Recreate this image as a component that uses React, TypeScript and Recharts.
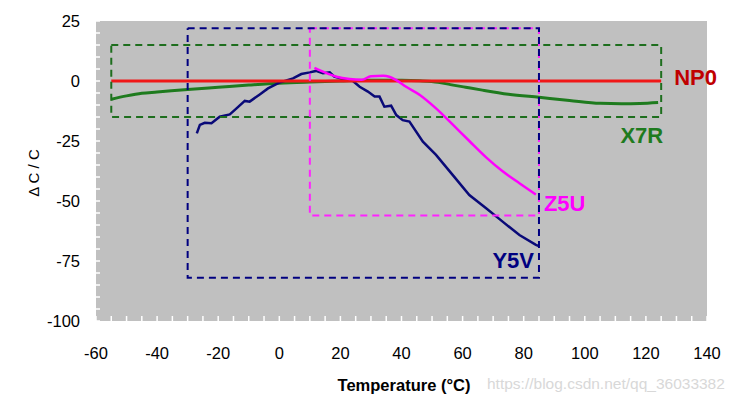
import { LineChart, Line, XAxis, YAxis, CartesianGrid, Customized } from 'recharts'

const X_MAJOR = [-60, -40, -20, 0, 20, 40, 60, 80, 100, 120, 140]
const X_MINOR = [
  -60, -55, -50, -45, -40, -35, -30, -25, -20, -15, -10, -5, 0, 5, 10, 15, 20, 25, 30, 35, 40,
  45, 50, 55, 60, 65, 70, 75, 80, 85, 90, 95, 100, 105, 110, 115, 120, 125, 130, 135, 140,
]
const Y_MAJOR = [-100, -75, -50, -25, 0, 25]
const Y_MINOR = [
  -100, -95, -90, -85, -80, -75, -70, -65, -60, -55, -50, -45, -40, -35, -30, -25, -20, -15, -10,
  -5, 0, 5, 10, 15, 20, 25,
]
const Y_GRID = [-75, -50, -25, 0]

// NP0: flat
const NP0_T = [-55, 125]
const NP0_V = [0, 0]

// X7R curve + box
const X7R_T = [-55, -50, -45, -40, -30, -20, -10, 0, 10, 20, 30, 40, 46, 52, 56, 61, 66, 75, 85, 95, 105, 112, 118, 124]
const X7R_V = [-7.6, -6.2, -5.1, -4.6, -3.5, -2.6, -1.7, -0.9, -0.4, 0, 0.3, 0.3, 0.1, -0.5, -1.5, -2.6, -3.7, -5.5, -6.8, -8.1, -9.3, -9.5, -9.4, -9.0]
const X7R_BOX_T = [-55, 125]
const X7R_BOX_V = [15, -15]

// Y5V curve + box
const Y5V_T = [
  -27, -26, -24.4, -22.2, -19.5, -16.2, -14, -11.3, -9.7, -6.4, -3.7, 0, 4.5, 7.2, 10, 12, 14.3,
  16.5, 18, 21, 24, 26.3, 29, 31.2, 32.8, 34.4, 36.6, 38.3, 40.4, 42.6, 47, 51.3, 56.8, 62.2, 67.7,
  73.1, 78.6, 84, 85,
]
const Y5V_V = [
  -21.8, -18.3, -17.4, -17.6, -14.9, -13.9, -11.4, -8.3, -8.6, -5.6, -3.1, -0.7, 1.1, 2.9, 3.6, 4.2,
  3.2, 3.6, 1.8, 0.8, 0.1, -2.4, -4.4, -6.5, -6.5, -10.7, -10.3, -14.2, -16.3, -16.9, -25.3, -30.8,
  -39.2, -47.5, -53, -58.6, -64.2, -68.3, -68.8,
]
const Y5V_BOX_T = [-30, 85]
const Y5V_BOX_V = [22, -82]

// Z5U curve + box
const Z5U_T = [11.5, 14.3, 18.7, 23, 27, 30, 34, 36, 38.3, 41.5, 46, 51.3, 56.8, 62.2, 67.7, 73.1, 78.6, 84]
const Z5U_V = [5.5, 3.9, 1.8, 0.8, 0.5, 2, 2.2, 1.8, 0.4, -2.4, -5.8, -11.4, -18.2, -25, -31.8, -37.6, -42.6, -47.3]
const Z5U_BOX_T = [10, 85]
const Z5U_BOX_V = [22, -56]

const FONT = '"Liberation Sans", Arial, sans-serif'

const pts = (ts: number[], vs: number[]) => ts.map((t, i) => ({ t, v: vs[i] }))
// closed rectangle: TL, TR, BR, BL, TL
const box = (ts: number[], vs: number[]) => [
  { t: ts[0], v: vs[0] },
  { t: ts[1], v: vs[0] },
  { t: ts[1], v: vs[1] },
  { t: ts[0], v: vs[1] },
  { t: ts[0], v: vs[0] },
]

const np0 = pts(NP0_T, NP0_V)
const x7r = pts(X7R_T, X7R_V)
const y5v = pts(Y5V_T, Y5V_V)
const z5u = pts(Z5U_T, Z5U_V)
const x7rBox = box(X7R_BOX_T, X7R_BOX_V)
const y5vBox = box(Y5V_BOX_T, Y5V_BOX_V)
const z5uBox = box(Z5U_BOX_T, Z5U_BOX_V)

const seriesLabel =
  (text: string, color: string, idx: number, dx: number, dy: number, anchor: 'start' | 'end') =>
  (p: any) => {
    if (p.index !== idx) return <g key={p.index} />
    return (
      <text key={p.index} x={p.x + dx} y={p.y + dy} textAnchor={anchor} fill={color} fontFamily={FONT} fontWeight="bold" fontSize={22}>
        {text}
      </text>
    )
  }

// tickSize/tickMargin are 0, so p.x / p.y sit on the plot edge
const XTick = (p: any) => {
  const v = p.payload?.value
  return (
    <g>
      <line x1={p.x} x2={p.x} y1={p.y} y2={p.y - 5} stroke="#ffffff" strokeWidth={1.5} />
      {X_MAJOR.includes(v) && (
        <text x={p.x} y={p.y + 38} textAnchor="middle" fill="#000" fontFamily={FONT} fontSize={16.5}>
          {v}
        </text>
      )}
    </g>
  )
}

const YTick = (p: any) => {
  const v = p.payload?.value
  return (
    <g>
      <line x1={p.x} x2={p.x + 4} y1={p.y} y2={p.y} stroke="#ffffff" strokeWidth={1.5} />
      {Y_MAJOR.includes(v) && (
        <text x={p.x - 16} y={p.y + 6} textAnchor="end" fill="#000" fontFamily={FONT} fontSize={16.5}>
          {v}
        </text>
      )}
    </g>
  )
}

const Titles = () => (
  <g>
    <text x={396} y={383} textAnchor="middle" fill="#000" fontFamily={FONT} fontWeight="bold" fontSize={16.5}>
      Temperature (°C)
    </text>
    <text x={25} y={165} transform="rotate(-90 25 165)" textAnchor="middle" dominantBaseline="central" fill="#000" fontFamily={FONT} fontSize={15}>
      Δ C / C
    </text>
    <text x={479} y={381} fill="#d8d8d8" fontFamily={FONT} fontSize={15.5}>
      https://blog.csdn.net/qq_36033382
    </text>
  </g>
)

export default function App() {
  return (
    <div style={{ width: 731, height: 398 }}>
      <LineChart width={731} height={398} margin={{ top: 13, right: 32, left: 0, bottom: 0 }}>
        <CartesianGrid
          vertical={false}
          fill="#c0c0c0"
          fillOpacity={1}
          stroke="#ffffff"
          strokeWidth={1.2}
          horizontalCoordinatesGenerator={({ yAxis }: any) =>
            yAxis && typeof yAxis.scale === 'function' ? Y_GRID.map((v) => yAxis.scale(v)) : []
          }
        />
        <XAxis type="number" dataKey="t" domain={[-60, 140]} ticks={X_MINOR} interval={0} allowDataOverflow axisLine={false} tickSize={0} tickMargin={0} tickLine={false} tick={<XTick />} height={85} />
        <YAxis type="number" domain={[-100, 25]} ticks={Y_MINOR} interval={0} allowDataOverflow axisLine={false} tickSize={0} tickMargin={0} tickLine={false} tick={<YTick />} width={88} />
        <Line data={x7r} dataKey="v" type="monotone" stroke="#1e7b1e" strokeWidth={3} dot={false} activeDot={false} isAnimationActive={false} />
        <Line data={y5v} dataKey="v" type="linear" stroke="#0a0a78" strokeWidth={2.5} dot={false} activeDot={false} isAnimationActive={false} />
        <Line data={np0} dataKey="v" type="linear" stroke="#f01818" strokeWidth={3} dot={false} activeDot={false} isAnimationActive={false} label={seriesLabel('NP0', '#c00000', 1, 13, 4, 'start')} />
        <Line data={z5u} dataKey="v" type="monotone" stroke="#ff00ff" strokeWidth={2.5} dot={false} activeDot={false} isAnimationActive={false} label={seriesLabel('Z5U', '#ff00ff', Z5U_T.length - 1, 8, 16, 'start')} />
        <Line data={x7rBox} dataKey="v" type="linear" stroke="#1e6e1e" strokeWidth={2} strokeDasharray="7 5" dot={false} activeDot={false} isAnimationActive={false} label={seriesLabel('X7R', '#1e7b1e', 2, 2, 26, 'end')} />
        <Line data={z5uBox} dataKey="v" type="linear" stroke="#ff22ff" strokeWidth={2} strokeDasharray="7 5" dot={false} activeDot={false} isAnimationActive={false} />
        <Line data={y5vBox} dataKey="v" type="linear" stroke="#000080" strokeWidth={2} strokeDasharray="7 5" dot={false} activeDot={false} isAnimationActive={false} label={seriesLabel('Y5V', '#000080', 2, -5, -10, 'end')} />
        <Customized component={Titles} />
      </LineChart>
    </div>
  )
}
